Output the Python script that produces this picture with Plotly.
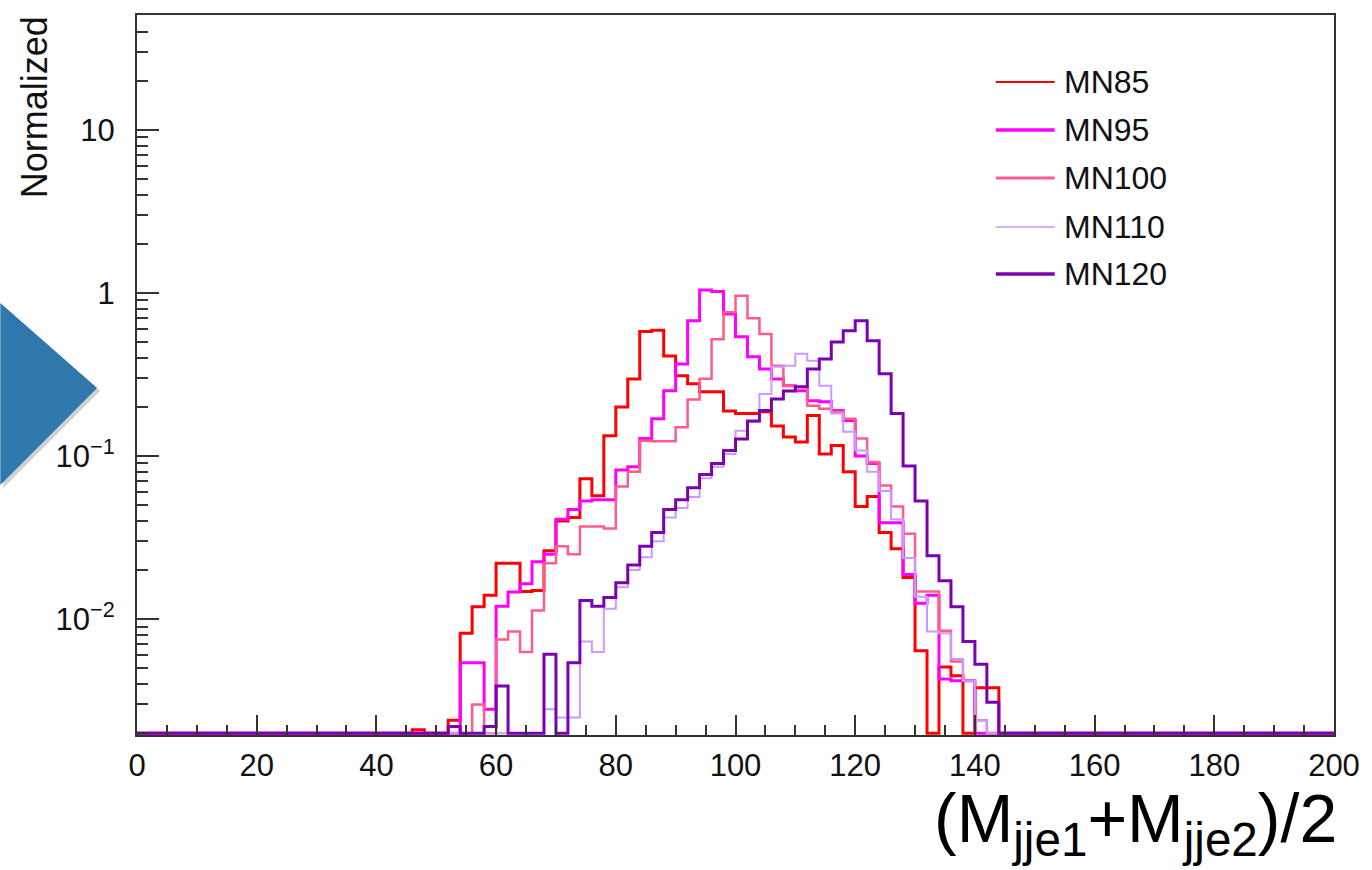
import numpy as np
import plotly.graph_objects as go

# ---------------- data (bin width 2, x from 0 to 200) ----------------
bin_edges = list(range(0, 202, 2))

series_names = ["MN85", "MN95", "MN100", "MN110", "MN120"]

mn85_start = 46
mn85 = [0.0021, 0, 0, 0.0024, 0.0082, 0.0119, 0.014, 0.022, 0.022, 0.0148,
        0.015, 0.0263, 0.040, 0.042, 0.0726, 0.0571, 0.133, 0.20, 0.297, 0.58,
        0.59, 0.411, 0.31, 0.277, 0.248, 0.248, 0.189, 0.182, 0.182, 0.187,
        0.153, 0.131, 0.122, 0.177, 0.103, 0.116, 0.080, 0.049, 0.0564, 0.034,
        0.027, 0.018, 0.0064, 0, 0.0051, 0.0045, 0, 0.0038, 0.0038]

mn95_start = 54
mn95 = [0.0054, 0.0054, 0.0028, 0.012, 0.0147, 0.0165, 0.0225, 0.025, 0.041, 0.047,
        0.053, 0.054, 0.054, 0.082, 0.086, 0.128, 0.169, 0.251, 0.367, 0.674,
        1.04, 1.02, 0.743, 0.538, 0.406, 0.342, 0.297, 0.27, 0.251, 0.218,
        0.215, 0.19, 0.165, 0.10, 0.09, 0.039, 0.039, 0.0188, 0.0125, 0.014,
        0.0043, 0.0042, 0.0042]

mn100_start = 56
mn100 = [0.003, 0, 0.0075, 0.0084, 0.0063, 0.0113, 0.022, 0.028, 0.025, 0.037,
         0.037, 0.036, 0.065, 0.08, 0.124, 0.123, 0.123, 0.150, 0.222, 0.298,
         0.52, 0.76, 0.96, 0.70, 0.56, 0.357, 0.27, 0.265, 0.203, 0.195,
         0.187, 0.169, 0.128, 0.092, 0.066, 0.049, 0.0334, 0.0148, 0.0148, 0.0085,
         0.0055, 0.0042, 0.0024]

mn110_start = 68
mn110 = [0.0028, 0.0025, 0.0025, 0.0073, 0.0063, 0.0116, 0.0157, 0.020, 0.024, 0.030,
         0.042, 0.048, 0.056, 0.073, 0.086, 0.103, 0.143, 0.162, 0.24, 0.352,
         0.357, 0.423, 0.384, 0.27, 0.182, 0.141, 0.108, 0.080, 0.061, 0.041,
         0.0237, 0.0137, 0.0084, 0.0082, 0.0057, 0.0042, 0.0024]

mn120_start = 52
mn120 = [0.0022, 0, 0, 0.0022, 0.0039, 0, 0, 0, 0.0061, 0,
         0.0054, 0.013, 0.012, 0.0136, 0.0167, 0.0215, 0.028, 0.034, 0.047, 0.054,
         0.064, 0.077, 0.09, 0.108, 0.127, 0.164, 0.19, 0.224, 0.25, 0.266,
         0.342, 0.394, 0.50, 0.585, 0.674, 0.508, 0.319, 0.182, 0.087, 0.053,
         0.0245, 0.0172, 0.0119, 0.0073, 0.0053, 0.0031]

starts = [mn85_start, mn95_start, mn100_start, mn110_start, mn120_start]
values = [mn85, mn95, mn100, mn110, mn120]

y_tick_vals = [0.01, 0.1, 1, 10]
y_tick_text = ["10<sup>\u22122</sup>", "10<sup>\u22121</sup>", "1", "10"]
x_tick_vals = list(range(0, 201, 20))

# ---------------- style ----------------
colors = ["#FF0000", "#FF00FF", "#FF5C8A", "#CC99FF", "#7B00B0"]
widths = [3, 3, 2.5, 2, 3]
legend_widths = [2, 3.5, 3, 1.5, 3.5]
FONT = "Liberation Sans, Arial, Helvetica, sans-serif"
FLOOR = 0.002

W, H = 1372, 870
L, R, T, B = 137, 35, 15, 135
PW, PH = W - L - R, H - T - B


def px(x):
    return (x - L) / PW


def py(y):
    return (H - B - y) / PH


nbins = len(bin_edges) - 1
fig = go.Figure()
for name, st, vals, col, lw in zip(series_names, starts, values, colors, widths):
    full = np.zeros(nbins)
    i0 = st // 2
    full[i0:i0 + len(vals)] = vals
    yv = np.where(full > 0, full, FLOOR)
    yv = np.append(yv, yv[-1])
    fig.add_trace(go.Scatter(
        x=bin_edges, y=yv, mode="lines", name=name,
        line=dict(color=col, width=lw, shape="hv"),
        showlegend=False, hoverinfo="skip"))

axis_col = "#333333"
minor_y = [m * 10.0 ** e for e in range(-3, 2) for m in range(2, 10)]
minor_y = [v for v in minor_y if 0.00195 < v < 50.5]

fig.update_layout(
    width=W, height=H,
    margin=dict(l=L, r=R, t=T, b=B),
    paper_bgcolor="white", plot_bgcolor="white",
    font=dict(family=FONT, color="#111111"),
    xaxis=dict(
        range=[0, 200], tickmode="array", tickvals=x_tick_vals,
        ticks="inside", ticklen=20, tickwidth=1.5, tickcolor=axis_col,
        minor=dict(dtick=5, tick0=0, ticks="inside", ticklen=10,
                   tickwidth=1.5, tickcolor=axis_col),
        showline=True, linecolor=axis_col, linewidth=2, mirror=True,
        showgrid=False, zeroline=False,
        tickfont=dict(size=31, family=FONT, color="#111111"),
        ticklabelstandoff=2,
    ),
    yaxis=dict(
        type="log", range=[np.log10(0.00195), np.log10(50.5)],
        tickmode="array", tickvals=y_tick_vals, ticktext=y_tick_text,
        ticks="inside", ticklen=22, tickwidth=1.5, tickcolor=axis_col,
        minor=dict(tickmode="array", tickvals=minor_y, ticks="inside",
                   ticklen=11, tickwidth=1.5, tickcolor=axis_col),
        showline=True, linecolor=axis_col, linewidth=2, mirror=True,
        showgrid=False, zeroline=False,
        tickfont=dict(size=31, family=FONT, color="#111111"),
        ticklabelstandoff=14,
    ),
)

# manual legend (long line samples like the ROOT legend)
legend_y = [82, 130, 178, 227, 274]
for name, col, lw, ly in zip(series_names, colors, legend_widths, legend_y):
    fig.add_shape(type="line", xref="paper", yref="paper",
                  x0=px(998), x1=px(1057), y0=py(ly), y1=py(ly),
                  line=dict(color=col, width=lw))
    fig.add_annotation(xref="paper", yref="paper", x=px(1064), y=py(ly),
                       text=name, showarrow=False, xanchor="left", yanchor="middle",
                       font=dict(size=32, family=FONT, color="#111111"))

# blue arrow tip on the left (slide decoration)
tri = [(0, 303), (97, 388), (0, 485)]
def tri_path(pts, dx=0, dy=0):
    s = "M {} {}".format(px(pts[0][0] + dx), py(pts[0][1] + dy))
    for a, b in pts[1:]:
        s += " L {} {}".format(px(a + dx), py(b + dy))
    return s + " Z"

fig.add_shape(type="path", xref="paper", yref="paper", path=tri_path(tri, 3, 3),
              fillcolor="rgba(0,0,0,0.18)", line=dict(width=0), layer="below")
fig.add_shape(type="path", xref="paper", yref="paper", path=tri_path(tri),
              fillcolor="#2F78AB", line=dict(width=0), layer="above")

# y-axis title (rotated, partly off the top)
fig.add_annotation(xref="paper", yref="paper", x=px(35), y=py(200),
                   text="Normalized", textangle=-90, showarrow=False,
                   xanchor="center", yanchor="bottom",
                   font=dict(size=36, family=FONT, color="#111111"))

# x-axis title
fig.add_annotation(xref="paper", yref="paper", x=px(1342), y=py(868),
                   text="(M<sub>jje1</sub>+M<sub>jje2</sub>)/2", showarrow=False,
                   xanchor="right", yanchor="bottom",
                   font=dict(size=68, family=FONT, color="#000000"))

fig.write_html("out.html")
